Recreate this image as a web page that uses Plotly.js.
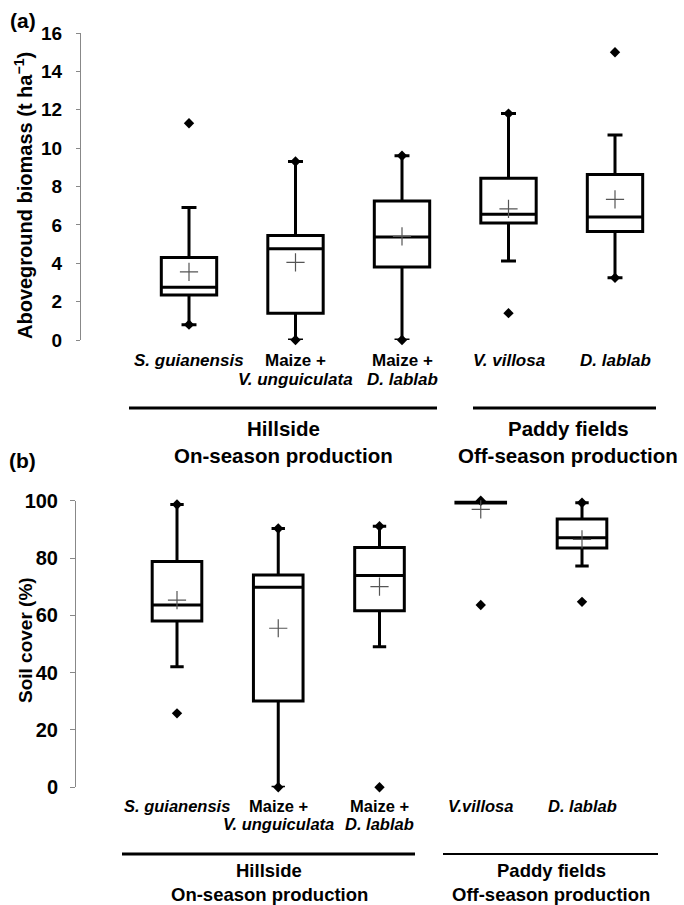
<!DOCTYPE html>
<html><head><meta charset="utf-8">
<script src="https://cdn.plot.ly/plotly-3.0.1.min.js"></script>
<style>html,body{margin:0;padding:0;background:#fff}</style>
</head><body><div id="chart" style="width:684px;height:905px"></div>
<script>
// ---- data ----
const positions = [0, 1, 2, 3, 4];
const labelsTopLine1 = ['<i>S. guianensis</i>', 'Maize +', 'Maize +', '<i>V. villosa</i>', '<i>D. lablab</i>'];
const labelsTopLine2 = ['', '<i>V. unguiculata</i>', '<i>D. lablab</i>', '', ''];
const labelsBotLine1 = ['<i>S. guianensis</i>', 'Maize +', 'Maize +', '<i>V.villosa</i>', '<i>D. lablab</i>'];
const labelsBotLine2 = ['', '<i>V. unguiculata</i>', '<i>D. lablab</i>', '', ''];
const groupNames = ['Hillside', 'Paddy fields'];
const groupSeasons = ['On-season production', 'Off-season production'];

// (a) Aboveground biomass (t ha-1)
const bioQ1 = [2.35, 1.4, 3.8, 6.1, 5.65];
const bioMedian = [2.75, 4.75, 5.37, 6.55, 6.41];
const bioQ3 = [4.3, 5.45, 7.24, 8.43, 8.62];
const bioLower = [0.8, 0, 0, 4.12, 3.24];
const bioUpper = [6.9, 9.3, 9.6, 11.8, 10.68];
const bioMean = [3.55, 4.05, 5.4, 6.83, 7.33];
const bioMin = [0.8, 0, 0, 1.4, 3.24];
const bioMax = [11.3, 9.3, 9.6, 11.8, 15.0];
const bioTicks = [0, 2, 4, 6, 8, 10, 12, 14, 16];

// (b) Soil cover (%)
const covQ1 = [58.0, 30.1, 61.6, 99.2, 83.5];
const covMedian = [63.6, 69.8, 73.9, 99.6, 87.1];
const covQ3 = [78.8, 74.1, 83.7, 99.9, 93.6];
const covLower = [42.1, 0, 49.0, 99.2, 77.2];
const covUpper = [98.7, 90.3, 91.1, 100, 99.3];
const covMean = [65.3, 55.5, 70.0, 97.0, 86.5];
const covMin = [25.8, 0, 0, 63.6, 64.7];
const covMax = [98.7, 90.3, 91.1, 100, 99.3];
const covTicks = [0, 20, 40, 60, 80, 100];

// ---- layout helpers ----
const W = 684, H = 905;
const px = v => v / W;
const py = v => 1 - v / H;
const FONT = 'Liberation Sans, Arial, Helvetica, sans-serif';

function boxTrace(q1, med, q3, lo, hi, xa, ya, width) {
  return {
    type: 'box', x: positions, q1: q1, median: med, q3: q3,
    lowerfence: lo, upperfence: hi, boxpoints: false,
    width: width, whiskerwidth: 0.27,
    line: {color: '#000', width: 3}, fillcolor: '#fff',
    xaxis: xa, yaxis: ya, showlegend: false, hoverinfo: 'skip'
  };
}
function extremeTrace(vals, xa, ya) {
  return {
    type: 'scatter', mode: 'markers', x: positions.concat(positions), y: vals,
    marker: {symbol: 'diamond', size: 8, color: '#000'},
    xaxis: xa, yaxis: ya, showlegend: false, cliponaxis: false, hoverinfo: 'skip'
  };
}
function meanTrace(vals, xa, ya) {
  return {
    type: 'scatter', mode: 'markers', x: positions, y: vals,
    marker: {symbol: 'cross-thin-open', size: 13, color: '#555', line: {color: '#555', width: 1.2}},
    xaxis: xa, yaxis: ya, showlegend: false, cliponaxis: false, hoverinfo: 'skip'
  };
}

const traces = [
  boxTrace(bioQ1, bioMedian, bioQ3, bioLower, bioUpper, 'x', 'y', 0.52),
  extremeTrace(bioMin.concat(bioMax), 'x', 'y'),
  meanTrace(bioMean, 'x', 'y'),
  boxTrace(covQ1, covMedian, covQ3, covLower, covUpper, 'x2', 'y2', 0.49),
  extremeTrace(covMin.concat(covMax), 'x2', 'y2'),
  meanTrace(covMean, 'x2', 'y2')
];

const hiddenX = {showline: false, showgrid: false, zeroline: false, showticklabels: false, ticks: ''};
function yAxis(domain, range, tickvals, size, standoff, len, anchor) {
  return {
    domain: domain, range: range, tickvals: tickvals, ticks: 'outside', ticklen: len,
    tickcolor: '#888', tickwidth: 1, showline: true, linecolor: '#888', linewidth: 1,
    showgrid: false, zeroline: false, anchor: anchor, ticklabelstandoff: standoff,
    tickfont: {family: FONT, size: size, color: '#000', weight: 700}
  };
}
function yOverlay(base, range, tickvals, len, anchor) {
  return {
    overlaying: base, range: range, tickvals: tickvals, ticks: 'inside', ticklen: len,
    tickcolor: '#888', tickwidth: 1, showline: false, showgrid: false, zeroline: false,
    showticklabels: false, anchor: anchor
  };
}

const annotations = [];
function addText(text, x, xref, y, size, extra) {
  annotations.push(Object.assign({
    text: text, x: x, xref: xref, y: py(y), yref: 'paper', showarrow: false,
    xanchor: 'center', yanchor: 'middle',
    font: {family: FONT, size: size, color: '#000', weight: 700}
  }, extra || {}));
}
// panel labels
addText('(a)', px(23), 'paper', 21, 21);
addText('(b)', px(22), 'paper', 460, 21);
// y titles
addText('Aboveground biomass (t ha<sup>−1</sup>)', px(23), 'paper', 196, 20, {textangle: -90});
addText('Soil cover (%)', px(25), 'paper', 640, 19, {textangle: -90});
// category labels
positions.forEach((p, i) => {
  addText(labelsTopLine1[i], p, 'x', 360, 17);
  if (labelsTopLine2[i]) addText(labelsTopLine2[i], p, 'x', 379, 17);
  addText(labelsBotLine1[i], p, 'x2', 806, 16.5);
  if (labelsBotLine2[i]) addText(labelsBotLine2[i], p, 'x2', 824, 16.5);
});
// group labels
addText(groupNames[0], px(283), 'paper', 428, 20.5);
addText(groupSeasons[0], px(283), 'paper', 455, 20.5);
addText(groupNames[1], px(568), 'paper', 428, 20.5);
addText(groupSeasons[1], px(568), 'paper', 455, 20.5);
addText(groupNames[0], px(269), 'paper', 870, 18.5);
addText(groupSeasons[0], px(269), 'paper', 894, 18.5);
addText(groupNames[1], px(551), 'paper', 870, 18.5);
addText(groupSeasons[1], px(551), 'paper', 894, 18.5);

function hline(x0, x1, y, w) {
  return {type: 'line', xref: 'paper', yref: 'paper', x0: px(x0), x1: px(x1), y0: py(y), y1: py(y),
          line: {color: '#000', width: w}};
}
const shapes = [
  hline(129, 437, 408, 3), hline(473, 656, 408, 3),
  hline(122, 415, 854, 3), hline(443, 658, 854, 2)
];

const layout = {
  width: W, height: H, autosize: false,
  margin: {l: 0, r: 0, t: 0, b: 0, pad: 0},
  paper_bgcolor: '#fff', plot_bgcolor: 'rgba(0,0,0,0)',
  boxmode: 'overlay', showlegend: false,
  xaxis: Object.assign({domain: [px(81), 1], range: [-1.0141, 4.6479], anchor: 'y'}, hiddenX),
  yaxis: yAxis([py(340), py(33)], [0, 16], bioTicks, 19, 10, 4, 'x'),
  yaxis3: yOverlay('y', [0, 16], bioTicks, 7, 'x'),
  xaxis2: Object.assign({domain: [px(76), 1], range: [-0.9975, 5.0074], anchor: 'y2'}, hiddenX),
  yaxis2: yAxis([py(787.3), py(500.7)], [0, 100], covTicks, 20, 8, 5, 'x2'),
  yaxis4: yOverlay('y2', [0, 100], covTicks, 5, 'x2'),
  annotations: annotations, shapes: shapes
};

Plotly.newPlot('chart', traces, layout, {staticPlot: true, displayModeBar: false});
</script></body></html>
